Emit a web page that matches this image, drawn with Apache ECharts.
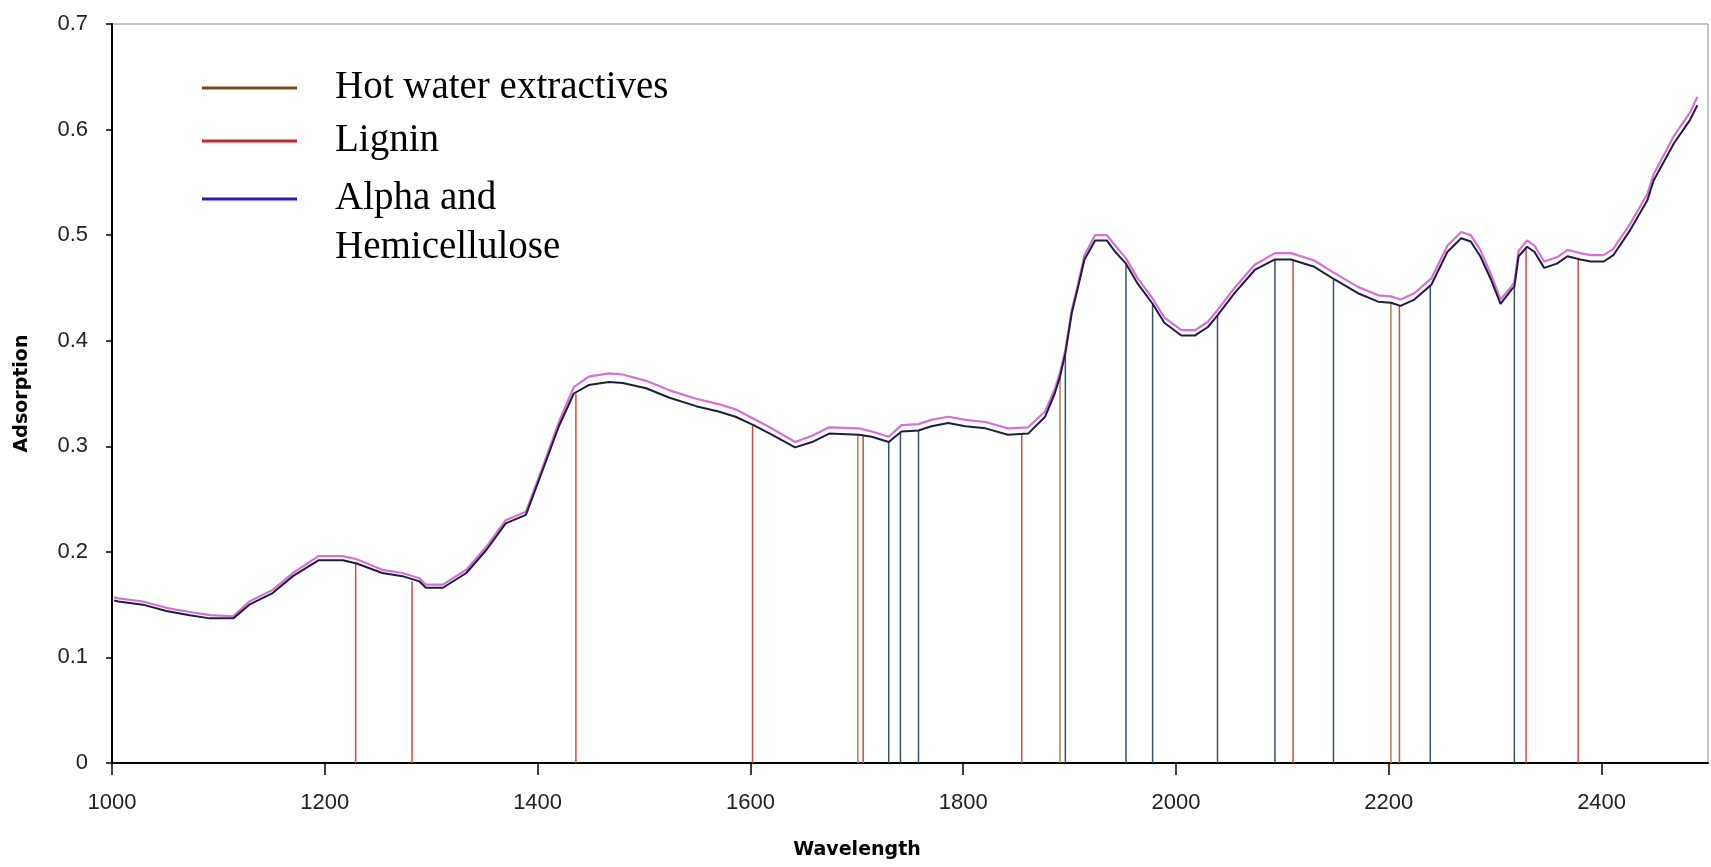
<!DOCTYPE html>
<html>
<head>
<meta charset="utf-8">
<script src="https://cdn.jsdelivr.net/npm/echarts@6/dist/echarts.min.js"></script>
<style>
html,body{margin:0;padding:0;background:#ffffff;}
#chart{width:1711px;height:867px;}
</style>
</head>
<body>
<div id="chart"></div>
<script>
// ---- data ----
const wavelengths = [1002,1006,1029,1051,1073,1092,1114,1129,1151,1170,1194,1217,1230,1254,1273,1289,1295,1311,1333,1352,1370,1389,1405,1420,1434,1448,1467,1480,1502,1524,1549,1570,1586,1603,1620,1642,1658,1674,1702,1714,1730,1742,1758,1770,1786,1802,1821,1842,1861,1877,1886,1891,1896,1902,1908,1914,1924,1935,1943,1953,1964,1978,1989,2005,2018,2030,2039,2055,2074,2093,2108,2130,2149,2171,2190,2202,2211,2224,2240,2255,2268,2277,2286,2296,2305,2315,2318,2322,2330,2337,2346,2358,2368,2380,2390,2402,2411,2427,2443,2449,2468,2483,2490];

const spectrumDark = [0.154,0.153,0.150,0.144,0.140,0.137,0.137,0.150,0.161,0.177,0.192,0.192,0.189,0.180,0.177,0.172,0.166,0.166,0.180,0.202,0.227,0.235,0.278,0.319,0.350,0.358,0.361,0.360,0.355,0.346,0.338,0.333,0.328,0.320,0.311,0.299,0.304,0.312,0.311,0.309,0.304,0.314,0.315,0.319,0.322,0.319,0.317,0.311,0.312,0.328,0.350,0.366,0.388,0.426,0.451,0.477,0.495,0.495,0.484,0.473,0.454,0.435,0.417,0.405,0.405,0.413,0.424,0.445,0.467,0.477,0.477,0.470,0.458,0.445,0.437,0.436,0.433,0.439,0.453,0.484,0.497,0.494,0.480,0.458,0.435,0.448,0.451,0.480,0.489,0.484,0.469,0.473,0.480,0.477,0.475,0.475,0.481,0.505,0.533,0.552,0.587,0.609,0.623];

const spectrumPink = [0.157,0.156,0.153,0.147,0.143,0.140,0.139,0.153,0.164,0.180,0.196,0.196,0.193,0.183,0.180,0.175,0.169,0.169,0.183,0.205,0.230,0.238,0.281,0.323,0.356,0.366,0.369,0.368,0.362,0.353,0.345,0.340,0.335,0.326,0.317,0.304,0.310,0.318,0.317,0.314,0.309,0.320,0.321,0.325,0.328,0.325,0.323,0.317,0.318,0.333,0.354,0.370,0.391,0.429,0.454,0.481,0.500,0.500,0.490,0.478,0.459,0.440,0.422,0.410,0.410,0.418,0.429,0.450,0.472,0.483,0.483,0.476,0.464,0.451,0.443,0.442,0.439,0.445,0.459,0.490,0.503,0.500,0.486,0.463,0.439,0.451,0.455,0.485,0.495,0.490,0.475,0.479,0.486,0.483,0.481,0.481,0.487,0.511,0.539,0.558,0.594,0.616,0.631];

const extractivesWl  = [1701, 1891, 2202];
const extractivesTop = [0.311, 0.366, 0.436];

const ligninWl  = [1229, 1282, 1436, 1602, 1706, 1855, 2110, 2210, 2329, 2378];
const ligninTop = [0.189, 0.172, 0.350, 0.320, 0.310, 0.311, 0.477, 0.433, 0.489, 0.477];

const celluloseWl  = [1730, 1741, 1758, 1896, 1953, 1978, 2039, 2093, 2148, 2239, 2318];
const celluloseTop = [0.304, 0.313, 0.315, 0.388, 0.473, 0.435, 0.424, 0.477, 0.458, 0.453, 0.451];

const xTicks = [1000, 1200, 1400, 1600, 1800, 2000, 2200, 2400];
const yTicks = [0, 0.1, 0.2, 0.3, 0.4, 0.5, 0.6, 0.7];

const seriesNames = ['Hot water extractives', 'Lignin', 'Alpha and Hemicellulose'];
const xName = 'Wavelength';
const yName = 'Adsorption';

// ---- build ----
function pairs(xs, ys) { return xs.map((x, i) => [x, ys[i]]); }
function drops(xs, tops) {
  const out = [];
  xs.forEach((x, i) => { out.push([x, 0]); out.push([x, tops[i]]); out.push([x, '-']); });
  return out;
}

const legendText = {
  fontFamily: 'Liberation Serif',
  fontSize: 39,
  lineHeight: 49,
  color: '#000',
  padding: [0, 0, 0, 33]
};
const legendBase = {
  orient: 'vertical',
  left: 202,
  padding: 0,
  icon: 'rect',
  itemWidth: 95,
  itemHeight: 3,
  selectedMode: false,
  textStyle: legendText
};

const chart = echarts.init(document.getElementById('chart'), null, { renderer: 'canvas' });
chart.setOption({
  animation: false,
  backgroundColor: '#ffffff',
  grid: {
    left: 112, right: 3, top: 24, bottom: 104,
    show: true, borderColor: '#8a8a8a', borderWidth: 1
  },
  legend: [
    Object.assign({}, legendBase, {
      top: 63.5,
      data: [{ name: seriesNames[0], itemStyle: { color: '#7b4a1e' } }]
    }),
    Object.assign({}, legendBase, {
      top: 116.5,
      data: [{ name: seriesNames[1], itemStyle: { color: '#c0272d' } }]
    }),
    Object.assign({}, legendBase, {
      top: 125.5,
      data: [{ name: seriesNames[2], itemStyle: { color: '#3412b8' } }],
      formatter: n => '{g| }\n{t|' + n.replace('and ', 'and}\n{t|') + '}',
      textStyle: Object.assign({}, legendText, {
        rich: {
          g: { fontFamily: 'Liberation Serif', fontSize: 39, lineHeight: 49 },
          t: { fontFamily: 'Liberation Serif', fontSize: 39, lineHeight: 49, color: '#000' }
        }
      })
    })
  ],
  xAxis: {
    type: 'value',
    min: 1000, max: 2500,
    name: xName,
    nameLocation: 'middle',
    nameGap: 78,
    nameTextStyle: {
      fontFamily: 'DejaVu Sans', fontWeight: 'bold', fontSize: 19, color: '#000',
      padding: [0, 106, 0, 0]
    },
    axisLine: { show: true, onZero: false, lineStyle: { color: '#000', width: 2 } },
    axisTick: { show: true, inside: false, length: 12, customValues: xTicks, lineStyle: { color: '#000', width: 1.5 } },
    axisLabel: {
      customValues: xTicks, margin: 29,
      formatter: v => String(v),
      fontFamily: 'Liberation Sans', fontSize: 22, color: '#222'
    },
    splitLine: { show: false }
  },
  yAxis: {
    type: 'value',
    min: 0, max: 0.7,
    name: yName,
    nameLocation: 'middle',
    nameGap: 80,
    nameRotate: 90,
    nameTextStyle: { fontFamily: 'DejaVu Sans', fontWeight: 'bold', fontSize: 19, color: '#000' },
    axisLine: { show: true, onZero: false, lineStyle: { color: '#000', width: 2 } },
    axisTick: { show: true, inside: false, length: 6, customValues: yTicks, lineStyle: { color: '#000', width: 1.5 } },
    axisLabel: {
      customValues: yTicks, margin: 24,
      formatter: v => String(v),
      fontFamily: 'Liberation Sans', fontSize: 22, color: '#222'
    },
    splitLine: { show: false }
  },
  series: [
    {
      name: seriesNames[0], type: 'line', data: drops(extractivesWl, extractivesTop),
      showSymbol: false, connectNulls: false, z: 2,
      itemStyle: { color: '#a8864e' }, lineStyle: { color: '#a8864e', width: 1.5 }
    },
    {
      name: seriesNames[1], type: 'line', data: drops(ligninWl, ligninTop),
      showSymbol: false, connectNulls: false, z: 2,
      itemStyle: { color: '#cc4b45' }, lineStyle: { color: '#cc4b45', width: 1.5 }
    },
    {
      name: seriesNames[2], type: 'line', data: drops(celluloseWl, celluloseTop),
      showSymbol: false, connectNulls: false, z: 2,
      itemStyle: { color: '#34526a' }, lineStyle: { color: '#34526a', width: 1.5 }
    },
    {
      name: 'Spectrum (upper)', type: 'line', data: pairs(wavelengths, spectrumPink),
      showSymbol: false, z: 3,
      lineStyle: { color: '#d470d8', width: 2.2 }, itemStyle: { color: '#d470d8' }
    },
    {
      name: 'Spectrum (lower)', type: 'line', data: pairs(wavelengths, spectrumDark),
      showSymbol: false, z: 4,
      lineStyle: { color: '#1d1d3d', width: 2 }, itemStyle: { color: '#1d1d3d' }
    }
  ]
});
</script>
</body>
</html>
